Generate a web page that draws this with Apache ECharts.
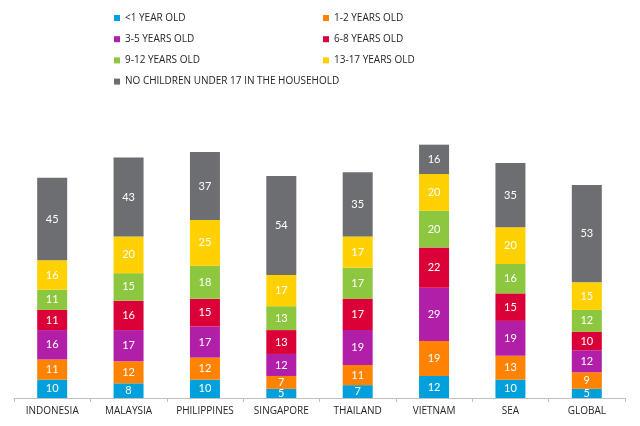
<!DOCTYPE html>
<html>
<head>
<meta charset="utf-8">
<script src="https://cdn.jsdelivr.net/npm/echarts@6/dist/echarts.min.js"></script>
<style>
html,body{margin:0;padding:0;background:#fff;}
#c{width:640px;height:426px;}
</style>
</head>
<body>
<div id="c"></div>
<script>
var categories = ['INDONESIA','MALAYSIA','PHILIPPINES','SINGAPORE','THAILAND','VIETNAM','SEA','GLOBAL'];
var seriesNames = ['<1 YEAR OLD','1-2 YEARS OLD','3-5 YEARS OLD','6-8 YEARS OLD','9-12 YEARS OLD','13-17 YEARS OLD','NO CHILDREN UNDER 17 IN THE HOUSEHOLD'];
var lt1 = [10,8,10,5,7,12,10,5];
var y1to2 = [11,12,12,7,11,19,13,9];
var y3to5 = [16,17,17,12,19,29,19,12];
var y6to8 = [11,16,15,13,17,22,15,10];
var y9to12 = [11,15,18,13,17,20,16,12];
var y13to17 = [16,20,25,17,17,20,20,15];
var noChildren = [45,43,37,54,35,16,35,53];
var colors = ['#00A0DC','#FF8200','#B11FA8','#DC0039','#8DC63F','#FFD100','#6D6E71'];

var values = [lt1,y1to2,y3to5,y6to8,y9to12,y13to17,noChildren];
var chart = echarts.init(document.getElementById('c'));
var series = values.map(function(v,i){
  return {
    name: seriesNames[i], type:'bar', stack:'s', data:v, barWidth:30,
    itemStyle:{color:colors[i]},
    label:{show:true, position:'inside', color:'#fff', fontSize:11, fontFamily:'Lato, "Open Sans", sans-serif'}
  };
});
var legendText = {fontSize:10, color:'#262626', fontFamily:'"Open Sans", Arial, sans-serif'};
chart.setOption({
  animation:false,
  legend:[
    {orient:'vertical', left:114, top:13, itemWidth:6, itemHeight:6, itemGap:11.2, icon:'rect', textStyle:legendText,
     padding:[0,0,0,0], itemStyle:{borderWidth:0},
     data:[seriesNames[0],seriesNames[2],seriesNames[4],seriesNames[6]], selectedMode:false},
    {orient:'vertical', left:323, top:13, itemWidth:6, itemHeight:6, itemGap:11.2, icon:'rect', textStyle:legendText,
     padding:[0,0,0,0], itemStyle:{borderWidth:0},
     data:[seriesNames[1],seriesNames[3],seriesNames[5]], selectedMode:false}
  ],
  grid:{left:14, right:15, top:141, bottom:28, containLabel:false},
  xAxis:{type:'category', data:categories,
    axisLine:{lineStyle:{color:'#BFBFBF'}},
    axisTick:{show:true, length:4, lineStyle:{color:'#BFBFBF'}},
    axisLabel:{color:'#262626', fontSize:10, margin:8, fontFamily:'"Open Sans", Arial, sans-serif'}},
  yAxis:{type:'value', min:0, max:140, show:false, splitLine:{show:false}},
  series:series
});
</script>
</body>
</html>
